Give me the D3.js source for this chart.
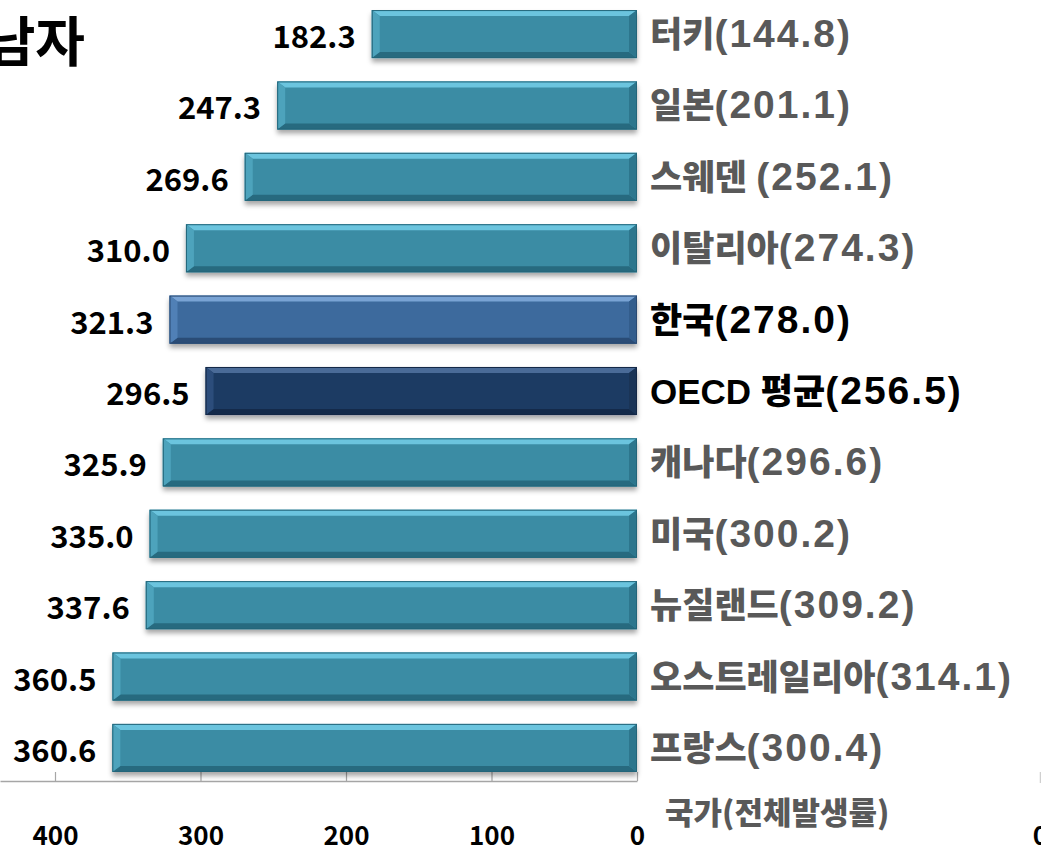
<!DOCTYPE html>
<html>
<head>
<meta charset="utf-8">
<script src="https://cdn.jsdelivr.net/npm/d3@7"></script>
<style>
  html, body { margin: 0; padding: 0; background: #fff; overflow: hidden; }
  svg { display: block; }
</style>
</head>
<body>
<div id="chart"></div>
<script>
const countries = ["터키", "일본", "스웨덴 ", "이탈리아", "한국", "OECD 평균", "캐나다", "미국", "뉴질랜드", "오스트레일리아", "프랑스"];
const maleRates = [182.3, 247.3, 269.6, 310.0, 321.3, 296.5, 325.9, 335.0, 337.6, 360.5, 360.6];
const totalRates = ["144.8", "201.1", "252.1", "274.3", "278.0", "256.5", "296.6", "300.2", "309.2", "314.1", "300.4"];
const tickValues = [0, 100, 200, 300, 400];

const w = 1041;
const h = 853;

const x0 = 637;       // zero line
const pxPerUnit = 1.455;
const axisY = 781;

const teal = { face: "#3a8ca4", top: "#6bc4de", bottom: "#276a7f", left: "#4da3bc", right: "#2d768d", edge: "#23667a" };
const blue = { face: "#3e6a9d", top: "#79a3d4", bottom: "#2a4c76", left: "#5080b6", right: "#335d8c", edge: "#2a4a72" };
const navy = { face: "#1f3b63", top: "#4a6b98", bottom: "#142a4a", left: "#2c4d7b", right: "#1a3456", edge: "#142846" };

const colorOf = (name) => name === "한국" ? blue : (name.startsWith("OECD") ? navy : teal);

const svg = d3.select("#chart")
    .append("svg")
    .attr("width", w)
    .attr("height", h);

// drop shadow under the bars
const defs = svg.append("defs");
defs.append("filter")
    .attr("id", "shadow")
    .attr("x", "-5%").attr("y", "-20%")
    .attr("width", "110%").attr("height", "160%")
    .append("feDropShadow")
    .attr("dx", 0).attr("dy", 4)
    .attr("stdDeviation", 2.5)
    .attr("flood-color", "#000")
    .attr("flood-opacity", 0.35);

// x scale (values grow to the left)
const xScale = d3.scaleLinear()
    .domain([0, x0 / pxPerUnit])
    .range([x0, 0]);

// y scale
const yScale = d3.scaleBand()
    .domain(countries)
    .range([-1.6, 783.6])
    .paddingInner(0.327)
    .paddingOuter(0.1635);

// title (cut at the left edge)
svg.append("text")
    .attr("x", 85)
    .attr("y", 62)
    .attr("text-anchor", "end")
    .attr("font-family", "'Noto Sans CJK KR', sans-serif")
    .attr("font-weight", "bold")
    .attr("font-size", 54)
    .attr("fill", "#000")
    .text("남자");

// axis
const xAxis = d3.axisBottom(xScale)
    .tickValues(tickValues)
    .tickSizeInner(-9)
    .tickSizeOuter(0)
    .tickPadding(46)
    .tickFormat(d3.format("d"));

const axisG = svg.append("g")
    .attr("transform", `translate(0, ${axisY})`)
    .call(xAxis);

axisG.select(".domain")
    .attr("stroke", "#a6a6a6")
    .attr("stroke-width", 1.5);
axisG.selectAll(".tick line")
    .attr("stroke", "#a6a6a6")
    .attr("stroke-width", 1.2);
axisG.selectAll(".tick text")
    .attr("font-family", "'Noto Sans CJK KR', sans-serif")
    .attr("font-weight", "bold")
    .attr("font-size", 26)
    .attr("fill", "#000");

// the neighbouring chart's axis, only its zero is visible
const nextScale = d3.scaleLinear().domain([0, 100]).range([1040, 1185]);
const nextAxis = svg.append("g")
    .attr("transform", `translate(0, ${axisY + 2})`)
    .call(d3.axisBottom(nextScale).tickValues([0]).tickSizeInner(-11).tickSizeOuter(0).tickPadding(44));
nextAxis.select(".domain").remove();
nextAxis.selectAll(".tick line").attr("stroke", "#d0d0d0").attr("stroke-width", 1.5);
nextAxis.selectAll(".tick text")
    .attr("font-family", "'Noto Sans CJK KR', sans-serif")
    .attr("font-weight", "bold")
    .attr("font-size", 26)
    .attr("fill", "#000");

// axis title
svg.append("text")
    .attr("x", 665)
    .attr("y", 824)
    .attr("font-family", "'Noto Sans CJK KR', sans-serif")
    .attr("font-weight", 900)
    .attr("font-size", 31)
    .attr("fill", "#595959")
    .text("국가(전체발생률)");

// bars
const bevX = 8;
const bevY = 6;

const bars = svg.selectAll(".bar")
    .data(countries)
    .enter()
    .append("g")
    .attr("class", "bar");

bars.each(function (d, i) {
    const g = d3.select(this);
    const c = colorOf(d);
    const left = xScale(maleRates[i]);
    const right = xScale(0);
    const top = yScale(d);
    const bottom = top + yScale.bandwidth();
    const pts = (arr) => arr.map((p) => p.join(",")).join(" ");

    g.append("rect")
        .attr("x", left)
        .attr("y", top)
        .attr("width", right - left)
        .attr("height", bottom - top)
        .attr("fill", c.face)
        .attr("filter", "url(#shadow)");

    g.append("polygon")
        .attr("points", pts([[left, top], [right, top], [right - bevX, top + bevY], [left + bevX, top + bevY]]))
        .attr("fill", c.top);
    g.append("polygon")
        .attr("points", pts([[left, bottom], [right, bottom], [right - bevX, bottom - bevY], [left + bevX, bottom - bevY]]))
        .attr("fill", c.bottom);
    g.append("polygon")
        .attr("points", pts([[left, top], [left + bevX, top + bevY], [left + bevX, bottom - bevY], [left, bottom]]))
        .attr("fill", c.left);
    g.append("polygon")
        .attr("points", pts([[right, top], [right - bevX, top + bevY], [right - bevX, bottom - bevY], [right, bottom]]))
        .attr("fill", c.right);

    g.append("rect")
        .attr("x", left + 0.5)
        .attr("y", top + 0.5)
        .attr("width", right - left - 1)
        .attr("height", bottom - top - 1)
        .attr("fill", "none")
        .attr("stroke", c.edge)
        .attr("stroke-width", 1);
});

// value labels left of bars
svg.selectAll(".value-label")
    .data(countries)
    .enter()
    .append("text")
    .attr("class", "value-label")
    .attr("x", (d, i) => xScale(maleRates[i]) - 16)
    .attr("y", (d) => yScale(d) + yScale.bandwidth() / 2 + 14)
    .attr("text-anchor", "end")
    .attr("font-family", "'Noto Sans CJK KR', sans-serif")
    .attr("font-weight", "bold")
    .attr("font-size", 31)
    .attr("fill", "#000")
    .text((d, i) => maleRates[i].toFixed(1));

// country labels right of zero line
const names = svg.selectAll(".name-label")
    .data(countries)
    .enter()
    .append("text")
    .attr("class", "name-label")
    .attr("x", 650)
    .attr("y", (d) => yScale(d) + yScale.bandwidth() / 2 + 13)
    .attr("font-family", "'Liberation Sans', 'Noto Sans CJK KR', sans-serif")
    .attr("font-weight", 900)
    .attr("fill", (d) => (d === "한국" || d.startsWith("OECD")) ? "#000" : "#595959");

names.append("tspan")
    .attr("font-size", 35)
    .text((d) => d);

names.append("tspan")
    .attr("font-size", 39)
    .attr("letter-spacing", 2)
    .text((d, i) => `(${totalRates[i]})`);
</script>
</body>
</html>
